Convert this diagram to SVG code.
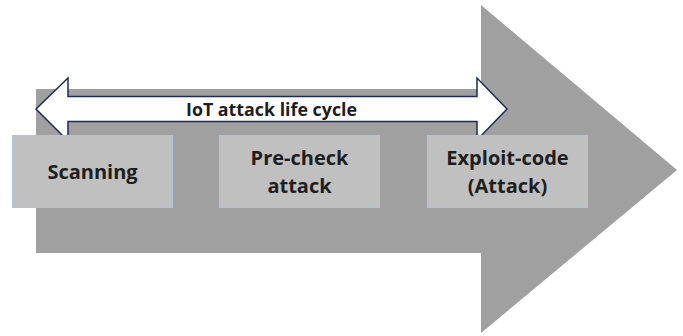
<svg xmlns="http://www.w3.org/2000/svg" width="683" height="336" viewBox="0 0 683 336">
<style>
.box{fill:#c0c0c0;stroke:#b4c3dc;stroke-width:1}
.lbl{font-family:"Open Sans","Liberation Sans",sans-serif;font-weight:bold;fill:#1e1e1e;text-anchor:middle}
</style>
<rect width="683" height="336" fill="#fff"/>
<g id="big-arrow">
<polygon points="36,89 481,89 481,5 677,170 481,333 481,253 36,253" fill="#a0a0a0"/>
</g>
<g id="connectors">
<polygon points="36,109 68,78 68,96.5 477,96.5 477,78 507,109 477,140 477,121.5 68,121.5 68,141" fill="#fff" stroke="#1f2a4f" stroke-width="1.5" stroke-linejoin="miter"/>
<text class="lbl" x="271.5" y="116" font-size="17" textLength="171" lengthAdjust="spacingAndGlyphs">IoT attack life cycle</text>
</g>
<g id="scanning">
<rect class="box" x="12.5" y="135.5" width="160" height="72"/>
<text class="lbl" x="92.5" y="179" font-size="20">Scanning</text>
</g>
<g id="precheck">
<rect class="box" x="219.5" y="135.5" width="160" height="72"/>
<text class="lbl" x="299.5" y="165" font-size="20">Pre-check</text>
<text class="lbl" x="299.5" y="193" font-size="20">attack</text>
</g>
<g id="exploit">
<rect class="box" x="427.5" y="135.5" width="160" height="72"/>
<text class="lbl" x="507.5" y="165" font-size="20">Exploit-code</text>
<text class="lbl" x="507.5" y="193" font-size="20">(Attack)</text>
</g>
</svg>
